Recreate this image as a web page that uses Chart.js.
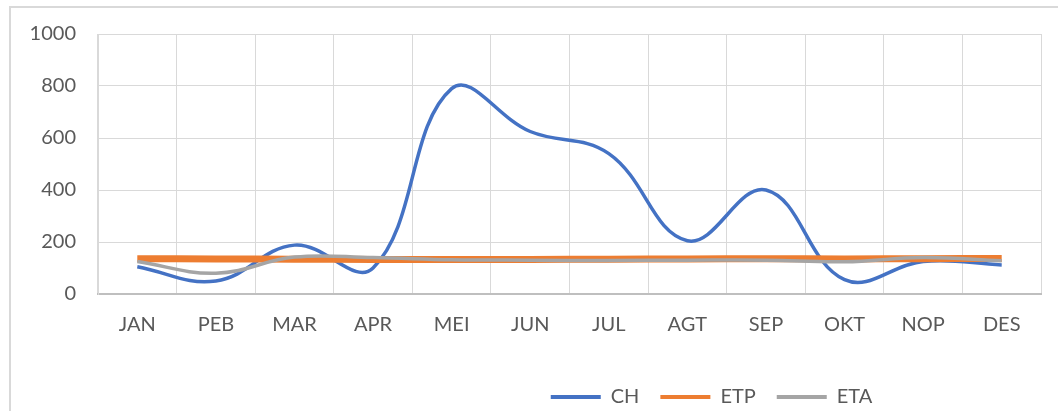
<!DOCTYPE html>
<html>
<head>
<meta charset="utf-8">
<script src="https://cdn.jsdelivr.net/npm/chart.js@4/dist/chart.umd.min.js"></script>
<style>
  html, body { margin: 0; padding: 0; background: #fff; overflow: hidden; }
  #wrap { position: relative; width: 1058px; height: 411px; }
  #frame { position: absolute; left: 9px; top: 6px; width: 1100px; height: 500px; border: 2px solid #d9d9d9; box-sizing: border-box; }
  canvas { position: absolute; left: 0; top: 0; }
</style>
</head>
<body>
<div id="wrap">
  <div id="frame"></div>
  <canvas id="chart" width="1058" height="411"></canvas>
</div>
<script>
// Months (Indonesian abbreviations)
const months = ['JAN', 'PEB', 'MAR', 'APR', 'MEI', 'JUN', 'JUL', 'AGT', 'SEP', 'OKT', 'NOP', 'DES'];

// Series values
const chValues  = [105, 50, 188, 100, 790, 625, 540, 205, 400, 55, 125, 112];
const etpValues = [136, 135, 134, 133, 133, 133, 134, 135, 136, 135, 136, 137];
const etaValues = [125, 80, 142, 140, 132, 130, 129, 130, 130, 124, 140, 128];

const yTicks = [0, 200, 400, 600, 800, 1000];

const textColor = '#595959';
const gridColor = '#d9d9d9';
const fontFamily = 'Lato, "Open Sans", sans-serif';

// Legend sits right of centre in the original, nudge it over
const legendShift = {
    id: 'legendShift',
    afterLayout: function(chart) {
        const lg = chart.legend;
        if (!lg) return;
        lg.left += 191;
        lg.right += 191;
        lg.top += 8;
        lg.bottom += 8;
    }
};

const ctx = document.getElementById('chart').getContext('2d');

new Chart(ctx, {
    type: 'line',
    data: {
        labels: months,
        datasets: [
            {
                label: 'CH',
                data: chValues,
                borderColor: '#4472c4',
                backgroundColor: '#4472c4',
                borderWidth: 3.5,
                tension: 0.4,
                pointRadius: 0,
                order: 3
            },
            {
                label: 'ETP',
                data: etpValues,
                borderColor: '#ed7d31',
                backgroundColor: '#ed7d31',
                borderWidth: 7,
                tension: 0.4,
                pointRadius: 0,
                order: 2
            },
            {
                label: 'ETA',
                data: etaValues,
                borderColor: '#a5a5a5',
                backgroundColor: '#a5a5a5',
                borderWidth: 3.5,
                tension: 0.4,
                pointRadius: 0,
                order: 1
            }
        ]
    },
    plugins: [legendShift],
    options: {
        responsive: false,
        animation: false,
        layout: {
            padding: { left: 0, right: 17, top: 30, bottom: 2 }
        },
        plugins: {
            tooltip: { enabled: false },
            legend: {
                position: 'bottom',
                labels: {
                    boxWidth: 50,
                    boxHeight: 0,
                    padding: 21,
                    color: textColor,
                    font: { family: fontFamily, size: 20 },
                    generateLabels: function(chart) {
                        return chart.data.datasets.map((ds, i) => ({
                            text: ds.label,
                            fillStyle: ds.borderColor,
                            strokeStyle: ds.borderColor,
                            lineWidth: 4,
                            hidden: false,
                            datasetIndex: i,
                            fontColor: textColor
                        }));
                    }
                }
            }
        },
        scales: {
            x: {
                offset: true,
                grid: { color: gridColor, lineWidth: 1, drawTicks: false, offset: true },
                border: { color: '#bfbfbf', width: 2 },
                ticks: {
                    color: textColor,
                    padding: 19,
                    font: { family: fontFamily, size: 20 }
                },
                afterFit: function(scale) { scale.height = 64; }
            },
            y: {
                min: 0,
                max: 1000,
                afterBuildTicks: function(scale) {
                    scale.ticks = yTicks.map(v => ({ value: v }));
                },
                grid: { color: gridColor, lineWidth: 1, drawTicks: false },
                border: { color: gridColor, width: 1 },
                ticks: {
                    color: textColor,
                    padding: 22,
                    font: { family: fontFamily, size: 20 },
                    callback: function(value) { return String(value); }
                },
                afterFit: function(scale) { scale.width = 98; }
            }
        }
    }
});
</script>
</body>
</html>
